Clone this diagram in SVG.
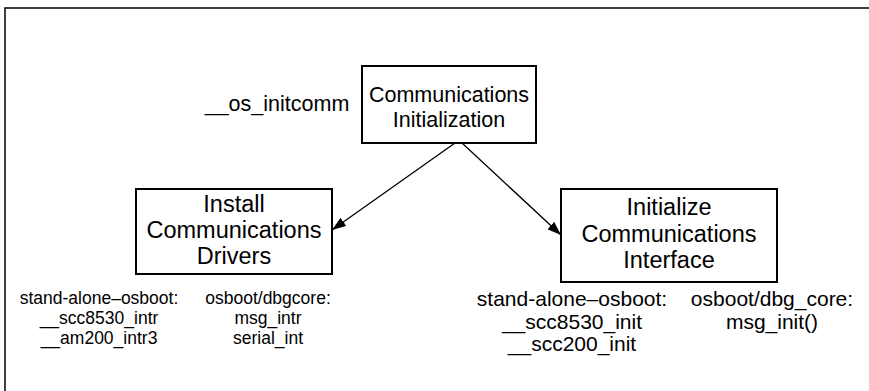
<svg xmlns="http://www.w3.org/2000/svg" width="869" height="391" viewBox="0 0 869 391">
  <defs>
    <marker id="arrow" viewBox="0 0 14 10" refX="14" refY="5" markerWidth="14" markerHeight="10" markerUnits="userSpaceOnUse" orient="auto">
      <path d="M0,0 L14,5 L0,10 Z" fill="#000"/>
    </marker>
    <style>
      .frame { fill: none; stroke: #000; stroke-width: 1.5; }
      .box { fill: #fff; stroke: #000; stroke-width: 2; }
      .lbl { font-family: "Liberation Sans", Arial, sans-serif; fill: #000; text-anchor: middle; }
      .big { font-size: 23.5px; }
      .top { font-size: 21.5px; }
      .note { font-size: 17.5px; }
      .note-r { font-size: 21px; }
      .edge { fill: none; stroke: #000; stroke-width: 1.3; marker-end: url(#arrow); }
    </style>
  </defs>
  <rect width="869" height="391" fill="#fff"/>
  <!-- outer frame, open on the right and bottom -->
  <rect class="frame" x="5" y="8" width="900" height="420"/>

  <g id="connectors">
    <line class="edge" x1="455" y1="143" x2="332" y2="230"/>
    <line class="edge" x1="462" y1="143" x2="561" y2="235"/>
  </g>

  <g id="comm-init">
    <rect class="box" x="362" y="66" width="174" height="77"/>
    <text class="lbl top" x="449" y="101.5">Communications</text>
    <text class="lbl top" x="449" y="126.5">Initialization</text>
    <text class="lbl top" x="277" y="111">__os_initcomm</text>
  </g>

  <g id="install-drivers">
    <rect class="box" x="136" y="189" width="196" height="85"/>
    <text class="lbl big" x="234" y="212">Install</text>
    <text class="lbl big" x="234" y="238">Communications</text>
    <text class="lbl big" x="234" y="264">Drivers</text>
    <text class="lbl note" x="99" y="304">stand-alone–osboot:</text>
    <text class="lbl note" x="99" y="324">__scc8530_intr</text>
    <text class="lbl note" x="99" y="344">__am200_intr3</text>
    <text class="lbl note" x="268" y="304">osboot/dbgcore:</text>
    <text class="lbl note" x="268" y="324">msg_intr</text>
    <text class="lbl note" x="268" y="344">serial_int</text>
  </g>

  <g id="init-interface">
    <rect class="box" x="561" y="189" width="216" height="93"/>
    <text class="lbl big" x="669" y="215">Initialize</text>
    <text class="lbl big" x="669" y="241.5">Communications</text>
    <text class="lbl big" x="669" y="268">Interface</text>
    <text class="lbl note-r" x="572" y="306">stand-alone–osboot:</text>
    <text class="lbl note-r" x="572" y="329">__scc8530_init</text>
    <text class="lbl note-r" x="572" y="351">__scc200_init</text>
    <text class="lbl note-r" x="772" y="306">osboot/dbg_core:</text>
    <text class="lbl note-r" x="772" y="329">msg_init()</text>
  </g>
</svg>
